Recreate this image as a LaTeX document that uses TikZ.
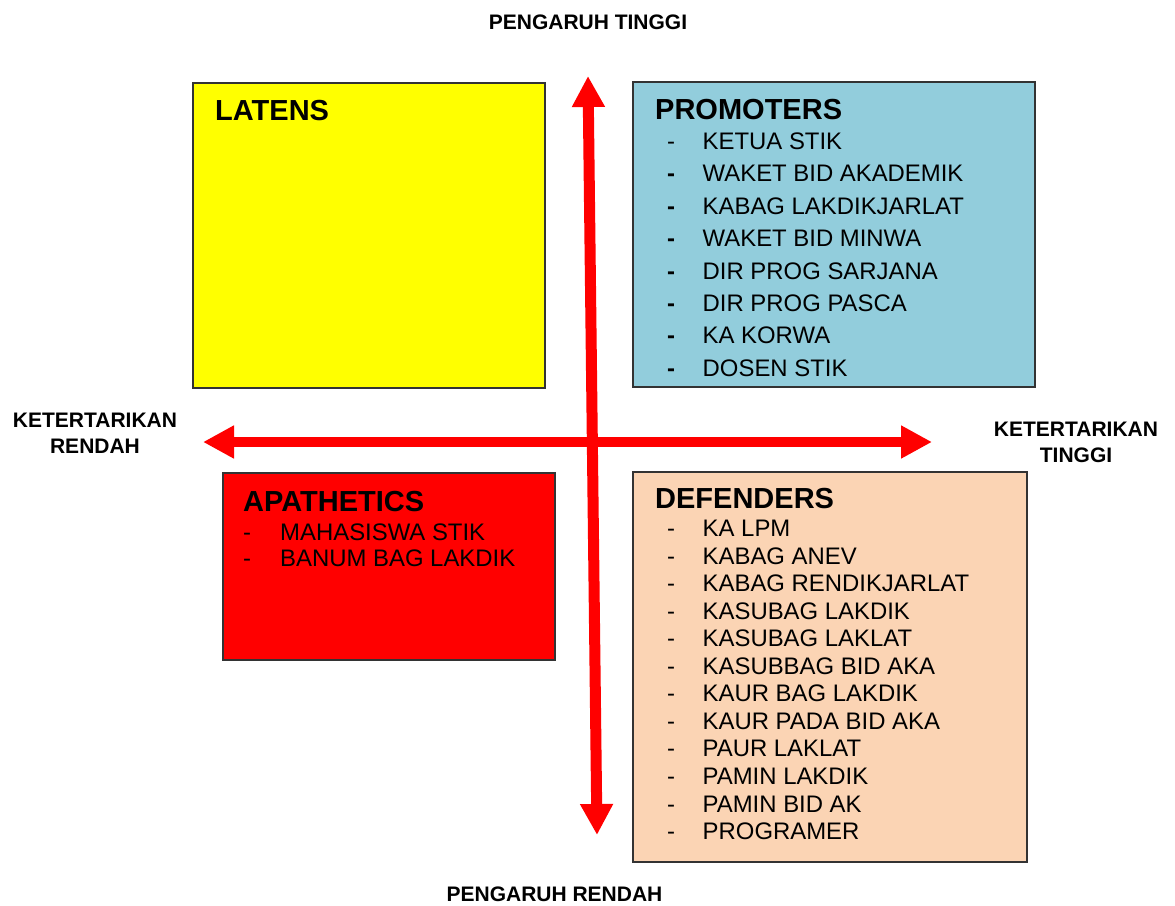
\documentclass[tikz,border=0pt]{standalone}
\usepackage{fontspec}
\setmainfont{Liberation Sans}
\usetikzlibrary{arrows.meta}
\definecolor{promblue}{HTML}{92CDDC}
\definecolor{defpeach}{HTML}{FBD4B4}
\definecolor{latyellow}{HTML}{FFFF00}
\definecolor{apared}{HTML}{FF0000}
\definecolor{boxline}{HTML}{333333}
\tikzset{
  quad/.style={draw=boxline, line width=1.1pt, anchor=north west, inner sep=0pt, outer sep=0pt},
  title/.style={anchor=base west, inner sep=0pt, font=\fontsize{29}{29}\selectfont\bfseries},
  item/.style={anchor=base west, inner sep=0pt, font=\fontsize{23.9}{23.9}\selectfont},
  dashmark/.style={anchor=base west, inner sep=0pt, font=\fontsize{23.9}{23.9}\selectfont},
  boldmark/.style={anchor=base west, inner sep=0pt, font=\fontsize{23.9}{23.9}\selectfont\bfseries},
  axislabel/.style={align=center, inner sep=0pt, font=\fontsize{21}{26}\selectfont\bfseries},
  bigarrow/.style={draw=apared, {Triangle[length=31pt,width=31pt]}-{Triangle[length=31pt,width=31pt]}}
}
\begin{document}
\begin{tikzpicture}[x=1pt,y=-1pt]
\useasboundingbox (0,0) rectangle (1175,905);
% quadrant boxes
\node[quad, fill=latyellow, minimum width=352pt, minimum height=305pt] (latens) at (193,83) {};
\node[quad, fill=promblue, minimum width=402pt, minimum height=305pt] (prom) at (633,82) {};
\node[quad, fill=apared, minimum width=332pt, minimum height=187pt] (apa) at (223,473) {};
\node[quad, fill=defpeach, minimum width=394pt, minimum height=390pt] (def) at (633,472) {};
% titles
\node[title] (tlat) at (215,120.5) {LATENS};
\node[title] (tprom) at (655,119.5) {PROMOTERS};
\node[title] (tapa) at (243,511.5) {APATHETICS};
\node[title] (tdef) at (655,508.5) {DEFENDERS};
% promoters items
\foreach \t [count=\i] in {KETUA STIK, WAKET BID AKADEMIK, KABAG LAKDIKJARLAT, WAKET BID MINWA, DIR PROG SARJANA, DIR PROG PASCA, KA KORWA, DOSEN STIK}{
  \pgfmathsetmacro{\yy}{149.5+(\i-1)*32.4}
  \ifnum\i=1
    \node[dashmark] (pd\i) at (667,\yy) {-};
  \else
    \node[boldmark] (pd\i) at (667,\yy) {-};
  \fi
  \node[item] (pi\i) at (702.5,\yy) {\t};
}
% defenders items
\foreach \t [count=\i] in {KA LPM, KABAG ANEV, KABAG RENDIKJARLAT, KASUBAG LAKDIK, KASUBAG LAKLAT, KASUBBAG BID AKA, KAUR BAG LAKDIK, KAUR PADA BID AKA, PAUR LAKLAT, PAMIN LAKDIK, PAMIN BID AK, PROGRAMER}{
  \pgfmathsetmacro{\yy}{536.5+(\i-1)*27.55}
  \node[dashmark] (dd\i) at (667,\yy) {-};
  \node[item] (di\i) at (702.5,\yy) {\t};
}
% apathetics items
\node[dashmark] (ad1) at (243,540) {-};
\node[item] (ai1) at (280,540) {MAHASISWA STIK};
\node[dashmark] (ad2) at (243,566.5) {-};
\node[item] (ai2) at (280,566.5) {BANUM BAG LAKDIK};
% axis labels
\node[axislabel] (top) at (588,22) {PENGARUH TINGGI};
\node[axislabel] (bot) at (554.5,894) {PENGARUH RENDAH};
\node[axislabel] (left) at (95,433) {KETERTARIKAN\\RENDAH};
\node[axislabel] (right) at (1076,442) {KETERTARIKAN\\TINGGI};
% axes
\coordinate (vtop) at (588,76);
\coordinate (vbot) at (597,835);
\coordinate (hl) at (203,442);
\coordinate (hr) at (932,442);
\draw[bigarrow, line width=10pt] (hl) -- (hr);
\draw[bigarrow, line width=11pt] (vbot) -- (vtop);
\end{tikzpicture}
\end{document}
